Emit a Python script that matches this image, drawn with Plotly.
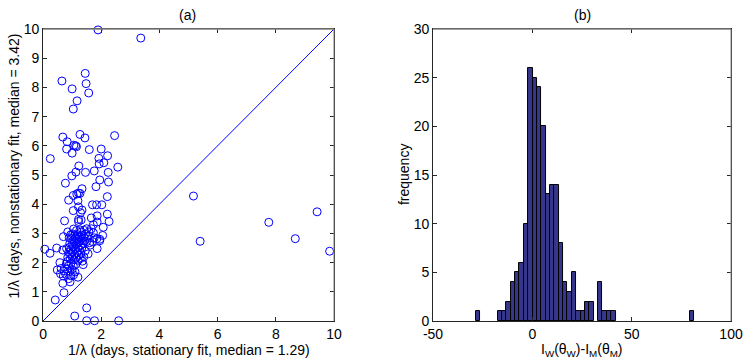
import numpy as np
import plotly.graph_objects as go

# panel (a): 1/lambda, stationary fit (x) vs nonstationary fit (y)
stat_fit = [
    1.89, 3.36, 0.65, 1.00, 1.45, 1.48, 1.57, 1.17, 1.04, 0.68, 0.83, 1.27, 1.44, 2.46,
    0.81, 1.00, 1.06, 1.12, 1.15, 1.59, 2.00, 0.25, 1.92, 2.22, 2.09, 1.93, 1.23, 2.57,
    1.13, 1.46, 1.76, 2.24, 0.99, 1.95, 2.25, 0.77, 1.82, 1.34, 1.22, 1.27, 1.16, 1.04,
    0.88, 2.21, 1.20, 1.70, 1.84, 2.02, 1.22, 1.04, 1.34, 1.29, 2.21, 1.86, 1.22, 1.22,
    1.31, 1.66, 0.74, 2.27, 1.86, 1.73, 2.07, 1.50, 1.66, 1.27, 1.31, 2.05, 1.73, 0.70,
    1.76, 1.85, 1.95, 1.50, 1.60, 1.70, 1.95, 0.06, 0.24, 0.47, 0.68, 0.81, 1.86, 0.83,
    0.58, 1.38, 0.49, 1.20, 0.70, 0.88, 0.93, 0.68, 0.72, 0.42, 1.50, 1.09, 1.50, 1.77,
    2.60, 5.17, 5.40, 7.76, 8.67, 9.42, 9.85,
    0.95, 1.02, 1.10, 1.18, 1.25, 1.32, 1.40, 1.45, 0.98, 1.05, 1.12, 1.20, 1.28, 1.35,
    1.42, 0.92, 1.00, 1.08, 1.15, 1.22, 1.30, 1.38, 0.90, 0.97, 1.04, 1.12, 1.19, 1.26,
    1.33, 0.88, 0.95, 1.02, 1.09, 1.16, 1.23, 1.30, 0.85, 0.93, 1.00, 1.07, 1.14, 1.21,
    1.28, 0.80, 0.88, 0.96, 1.04, 1.12, 0.62, 0.72, 0.82, 0.92, 1.00, 1.10, 0.60, 0.78,
    0.95, 1.05, 1.55, 1.62, 1.45, 1.55, 1.40, 1.35, 1.58, 1.42, 1.15, 1.05, 0.85, 0.90,
]
nonstat_fit = [
    9.97, 9.69, 8.22, 7.95, 8.48, 8.13, 7.81, 7.54, 7.26, 6.30, 6.14, 6.39, 6.27, 6.35,
    5.89, 5.75, 6.02, 6.00, 5.97, 5.87, 5.89, 5.56, 5.57, 5.66, 5.42, 5.38, 5.31, 5.27,
    5.10, 5.09, 5.14, 5.09, 4.97, 4.83, 4.76, 4.72, 4.60, 4.53, 4.38, 4.37, 4.35, 4.30,
    4.14, 4.26, 4.12, 3.98, 3.98, 3.98, 3.91, 3.78, 3.80, 3.71, 3.66, 3.60, 3.48, 3.41,
    3.46, 3.53, 3.43, 3.41, 3.39, 3.30, 3.21, 3.16, 3.16, 3.12, 3.05, 2.93, 3.02, 2.89,
    2.85, 2.82, 2.80, 2.72, 2.68, 2.72, 2.75, 2.46, 2.32, 2.50, 2.43, 2.48, 2.48, 2.04,
    2.00, 1.93, 1.75, 1.50, 1.54, 1.45, 1.34, 1.29, 0.97, 0.72, 0.45, 0.17, 0.01, 0.01,
    0.01, 4.28, 2.73, 3.38, 2.82, 3.74, 2.39,
    2.95, 2.98, 2.92, 2.96, 2.90, 2.94, 2.88, 2.97, 2.82, 2.78, 2.85, 2.80, 2.76, 2.83,
    2.74, 2.66, 2.62, 2.70, 2.64, 2.68, 2.60, 2.66, 2.52, 2.45, 2.55, 2.48, 2.52, 2.44,
    2.50, 2.35, 2.30, 2.38, 2.28, 2.34, 2.25, 2.32, 2.18, 2.12, 2.20, 2.10, 2.16, 2.08,
    2.14, 1.95, 1.90, 1.98, 1.88, 1.94, 1.80, 1.72, 1.78, 1.70, 1.76, 1.68, 1.62, 1.60,
    1.55, 1.58, 2.90, 2.60, 2.40, 2.30, 2.20, 2.05, 3.05, 3.10, 3.10, 3.15, 3.05, 2.85,
]

# panel (b): histogram of I_W(theta_W) - I_M(theta_M), 50 bins
bin_lo = -28.5
bin_width = 2.2
counts = [
    1, 0, 0, 0, 0, 1, 1, 2, 4, 5,
    6, 10, 26, 25, 24, 20, 13, 14, 14, 8,
    4, 3, 5, 1, 1, 2, 2, 0, 4, 1,
    1, 1, 0, 0, 0, 0, 0, 0, 0, 0,
    0, 0, 0, 0, 0, 0, 0, 0, 0, 1,
]
bin_centers = bin_lo + bin_width * (np.arange(len(counts)) + 0.5)
# empty bins are left out so no edge line is drawn on the baseline
bar_heights = [c if c > 0 else None for c in counts]

hist_ticks = [-50, 0, 50, 100]
hist_ticklabels = ["-50", "0", "50", "100"]

font = dict(family="Liberation Sans, Arial, sans-serif", size=14, color="black")

fig = go.Figure()

fig.add_trace(go.Scatter(
    x=stat_fit, y=nonstat_fit, mode="markers",
    marker=dict(symbol="circle-open", size=8, color="#0000ff", line=dict(width=1)),
    xaxis="x", yaxis="y", cliponaxis=False, showlegend=False,
))
fig.add_trace(go.Scatter(
    x=[0, 10], y=[0, 10], mode="lines",
    line=dict(color="#0000ff", width=1),
    xaxis="x", yaxis="y", showlegend=False,
))
fig.add_trace(go.Bar(
    x=bin_centers, y=bar_heights, width=bin_width,
    marker=dict(color="#36368c", line=dict(color="black", width=1)),
    xaxis="x2", yaxis="y2", showlegend=False,
))

ax = dict(showgrid=False, zeroline=False, showline=True, linecolor="#262626",
          linewidth=1, mirror="ticks", ticks="inside", ticklen=4,
          tickcolor="#262626", tickfont=font, automargin=False)

xdom_a, xdom_b, ydom = [0.0576, 0.4471], [0.5797, 0.9786], [0.1083, 0.9194]

fig.update_layout(
    width=747, height=360,
    margin=dict(l=0, r=0, t=0, b=0),
    paper_bgcolor="white", plot_bgcolor="white",
    font=font, bargap=0,
    xaxis=dict(ax, domain=xdom_a, range=[0, 10], tickvals=[0, 2, 4, 6, 8, 10]),
    yaxis=dict(ax, domain=ydom, range=[0, 10], tickvals=list(range(11))),
    xaxis2=dict(ax, domain=xdom_b, range=[-50, 100], tickvals=hist_ticks,
                ticktext=hist_ticklabels, anchor="y2"),
    yaxis2=dict(ax, domain=ydom, range=[0, 30], tickvals=[0, 5, 10, 15, 20, 25, 30],
                anchor="x2"),
)

# grey top and right box edges, as in the original
for xd in (xdom_a, xdom_b):
    fig.add_shape(type="line", xref="paper", yref="paper", x0=xd[0], x1=xd[1],
                  y0=ydom[1], y1=ydom[1], line=dict(color="#808080", width=1.5), layer="above")
    fig.add_shape(type="line", xref="paper", yref="paper", x0=xd[1], x1=xd[1],
                  y0=ydom[0], y1=ydom[1], line=dict(color="#808080", width=1), layer="above")

annots = [
    dict(x=0.2505, y=0.958, text="(a)"),
    dict(x=0.7792, y=0.958, text="(b)"),
    dict(x=0.2530, y=0.029, text="1/λ (days, stationary fit, median = 1.29)"),
    dict(x=0.7792, y=0.028, text="I<sub>W</sub>(θ<sub>W</sub>)-I<sub>M</sub>(θ<sub>M</sub>)"),
    dict(x=0.0187, y=0.540, text="1/λ (days, nonstationary fit, median = 3.42)", textangle=-90),
    dict(x=0.5410, y=0.514, text="frequency", textangle=-90),
]
for a in annots:
    fig.add_annotation(xref="paper", yref="paper", showarrow=False,
                       xanchor="center", yanchor="middle", font=font, **a)

# drop the page's default body margin so the figure sits at the window's corner
fig.write_html("out.html", config={"displayModeBar": False},
               post_script="document.body.style.margin='0';")
